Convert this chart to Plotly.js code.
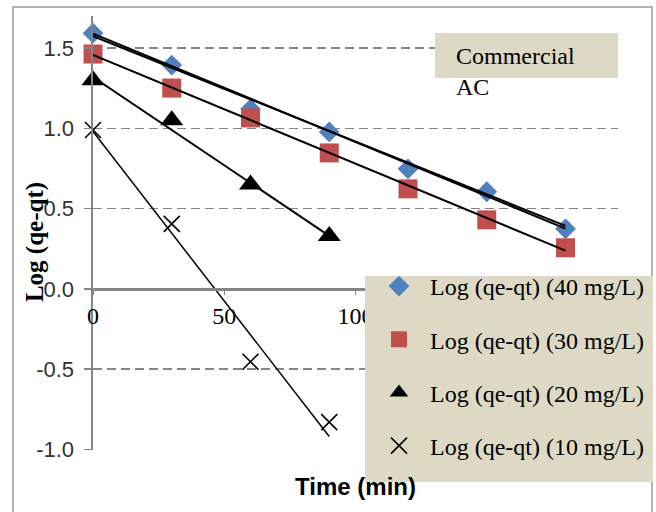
<!DOCTYPE html>
<html>
<head>
<meta charset="utf-8">
<script src="https://cdn.plot.ly/plotly-3.0.1.min.js"></script>
<style>html,body{margin:0;padding:0;background:#fff;}#chart{width:656px;height:512px;}</style>
</head>
<body>
<div id="chart"></div>
<script>
// ---- data ----
const time = [0, 30, 60, 90, 120, 150, 180];
const time20 = [0, 30, 60, 90];
const time10 = [0, 30, 60, 90];
const logQ40 = [1.593, 1.394, 1.12, 0.978, 0.748, 0.605, 0.374];
const logQ30 = [1.463, 1.251, 1.065, 0.847, 0.623, 0.430, 0.256];
const logQ20 = [1.30, 1.05, 0.65, 0.33];
const logQ10 = [0.99, 0.405, -0.454, -0.83];
// trend lines (end points)
const fitX40 = [0, 180];
const fit40a = [1.59, 0.375];
const fit40b = [1.575, 0.392];
const fitX30 = [0, 180];
const fit30 = [1.458, 0.238];
const fitX20 = [0, 90];
const fit20 = [1.32, 0.33];
const fitX10 = [0, 90];
const fit10 = [0.98, -0.92];
const seriesNames = ['Log (qe-qt) (40 mg/L)', 'Log (qe-qt) (30 mg/L)', 'Log (qe-qt) (20 mg/L)', 'Log (qe-qt) (10 mg/L)'];
const xTicks = [0, 50, 100, 150, 200];
const yTicks = [-1.0, -0.5, 0.0, 0.5, 1.0, 1.5];
const yTickText = ['-1.0', '-0.5', '0.0', '0.5', '1.0', '1.5'];
const boxText = 'Commercial<br>AC';
const xTitle = 'Time (min)';
const yTitle = 'Log (qe-qt)';

const serif = 'Liberation Serif, Times New Roman, serif';
const sans = 'Liberation Sans, Arial, sans-serif';
const grey = '#868686';
const beige = '#DDD9C4';

const yMin = -1.0, yMax = 1.7;

const traces = [
  {x: time, y: logQ40, name: seriesNames[0], mode: 'markers', legendgroup: 'a', cliponaxis: false,
   marker: {symbol: 'diamond', size: 16, color: '#4F81BD'}},
  {x: time, y: logQ30, name: seriesNames[1], mode: 'markers', legendgroup: 'b', cliponaxis: false,
   marker: {symbol: 'square', size: 19, color: '#C0504D'}},
  {x: time20, y: logQ20, name: seriesNames[2], mode: 'markers', legendgroup: 'c', cliponaxis: false,
   marker: {symbol: 'triangle-up', size: 20, color: '#000000'}},
  {x: time10, y: logQ10, name: seriesNames[3], mode: 'markers', legendgroup: 'd', cliponaxis: false,
   marker: {symbol: 'x-thin', size: 16, color: '#000000', line: {color: '#000000', width: 1.6}}},
  {x: fitX40, y: fit40a, mode: 'lines', showlegend: false, line: {color: '#000', width: 2}},
  {x: fitX40, y: fit40b, mode: 'lines', showlegend: false, line: {color: '#000', width: 2}},
  {x: fitX30, y: fit30, mode: 'lines', showlegend: false, line: {color: '#000', width: 2}},
  {x: fitX20, y: fit20, mode: 'lines', showlegend: false, line: {color: '#000', width: 2}},
  {x: fitX10, y: fit10, mode: 'lines', showlegend: false, line: {color: '#000', width: 1.5}}
];

const layout = {
  width: 656, height: 512,
  margin: {l: 93, r: 38, t: 16, b: 62, pad: 0, autoexpand: false},
  paper_bgcolor: '#ffffff', plot_bgcolor: 'rgba(0,0,0,0)',
  showlegend: true,
  xaxis: {
    range: [0, 200], anchor: 'free', position: (0 - yMin) / (yMax - yMin),
    tickvals: xTicks, ticks: 'outside', ticklen: 4, tickwidth: 1.5, tickcolor: grey,
    showline: true, linecolor: grey, linewidth: 2.5, showgrid: false, zeroline: false,
    tickfont: {family: serif, size: 24, color: '#000'},
    title: {text: xTitle, font: {family: sans, size: 24, color: '#000', weight: 'bold'}, standoff: 150},
    automargin: false
  },
  yaxis: {
    range: [yMin - 0.004, yMax], tickvals: yTicks, ticktext: yTickText,
    ticks: 'outside', ticklen: 7, tickwidth: 1.5, tickcolor: grey,
    showline: true, linecolor: grey, linewidth: 2.5,
    showgrid: true, gridcolor: grey, gridwidth: 1.5, griddash: '9px,5px',
    zeroline: true, zerolinecolor: grey, zerolinewidth: 2.5,
    tickfont: {family: sans, size: 22, color: '#333'},
    ticklabelstandoff: 5,
    automargin: false
  },
  legend: {
    xref: 'container', yref: 'container',
    x: 0.561, y: 0.4844, xanchor: 'left', yanchor: 'top',
    bgcolor: 'rgba(0,0,0,0)', borderwidth: 0, itemwidth: 52,
    font: {family: serif, size: 24, color: '#000'},
    tracegroupgap: 19, traceorder: 'grouped'
  },
  shapes: [
    {type: 'rect', xref: 'paper', yref: 'paper', x0: -0.1524, x1: 1.0648, y0: -0.2, y1: 1.0207,
     line: {color: '#9a9a9a', width: 1.5}, fillcolor: 'rgba(0,0,0,0)', layer: 'below'},
    {type: 'rect', xref: 'paper', yref: 'paper', x0: 0.5181, x1: 1.0667, y0: -0.0737, y1: 0.4009,
     line: {width: 0}, fillcolor: beige, layer: 'above'},
    {type: 'rect', xref: 'paper', yref: 'paper', x0: 0.6514, x1: 1.0, y0: 0.857, y1: 0.961,
     line: {width: 0}, fillcolor: beige, layer: 'above'}
  ],
  annotations: [
    {text: boxText, xref: 'paper', yref: 'paper', x: 0.6876, y: 0.873, xanchor: 'left', yanchor: 'middle',
     align: 'left', showarrow: false, font: {family: serif, size: 24, color: '#000'}},
    {text: '<b>' + yTitle + '</b>', xref: 'paper', yref: 'paper', x: -0.1105, y: 0.479,
     xanchor: 'center', yanchor: 'middle', textangle: -90, showarrow: false,
     font: {family: serif, size: 25, color: '#000'}}
  ]
};

Plotly.newPlot('chart', traces, layout, {displayModeBar: false, staticPlot: true});
</script>
</body>
</html>
